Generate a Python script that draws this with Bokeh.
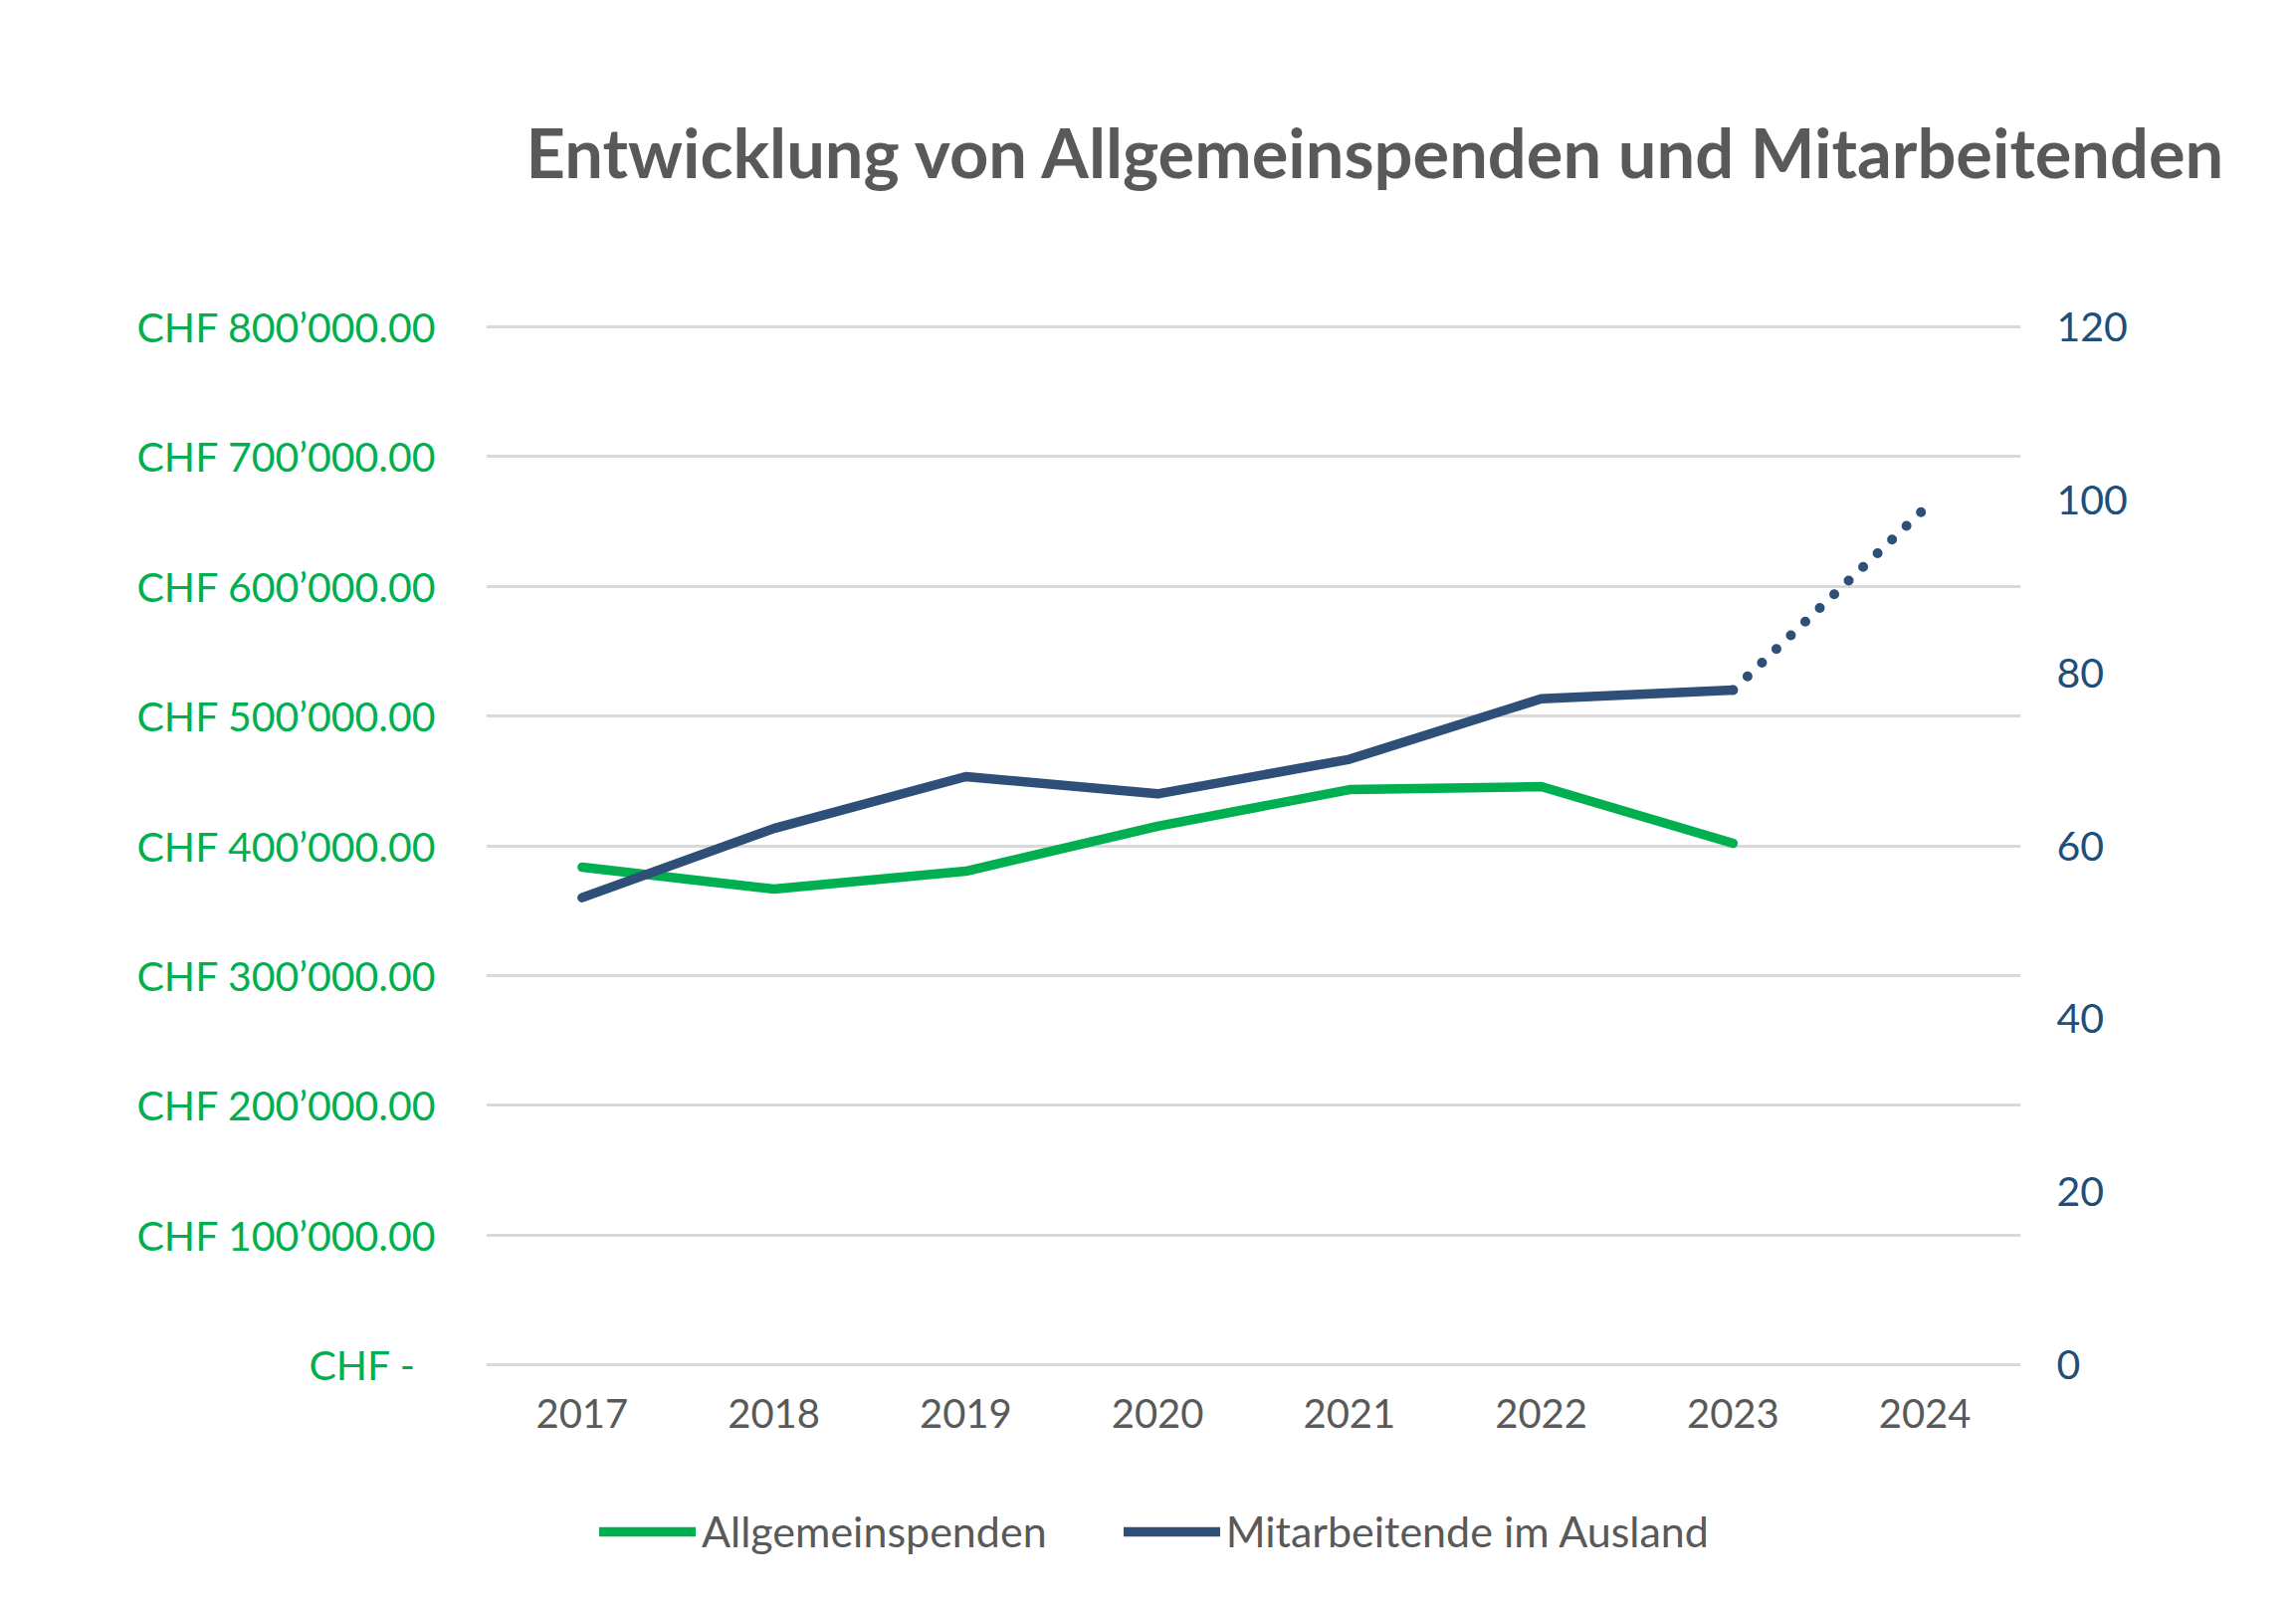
import numpy as np
from bokeh.plotting import figure
from bokeh.layouts import column
from bokeh.models import (Range1d, FactorRange, LinearAxis, FixedTicker, Legend,
                          LegendItem, ColumnDataSource, Title)
from bokeh.embed import file_html
from bokeh.resources import INLINE

# ---- data ----
years = ["2017", "2018", "2019", "2020", "2021", "2022", "2023", "2024"]
spenden_years = ["2017", "2018", "2019", "2020", "2021", "2022", "2023"]
spenden = [383500, 366600, 380400, 415000, 443300, 445600, 401900]
mitarbeiter_years = ["2017", "2018", "2019", "2020", "2021", "2022", "2023"]
mitarbeiter = [54, 62, 68, 66, 70, 77, 78]
prognose_years = ["2023", "2024"]
prognose = [78, 99]
left_ticks = [0, 100000, 200000, 300000, 400000, 500000, 600000, 700000, 800000]
left_labels = ["CHF -\u2002", "CHF 100\u2019000.00", "CHF 200\u2019000.00", "CHF 300\u2019000.00",
               "CHF 400\u2019000.00", "CHF 500\u2019000.00", "CHF 600\u2019000.00",
               "CHF 700\u2019000.00", "CHF 800\u2019000.00"]
right_ticks = [0, 20, 40, 60, 80, 100, 120]
title_text = "Entwicklung von Allgemeinspenden und Mitarbeitenden"
series_names = ["Allgemeinspenden", "Mitarbeitende im Ausland"]

GREEN = "#00B050"
BLUE = "#2E4F78"
GRAY = "#595959"
RBLUE = "#1F4E79"
FONT = "Lato"

# small range padding so the outer grid lines are not clipped at the frame edge
PAD_PX = 4
LEFT_PAD = 800000 / 1043 * PAD_PX
RIGHT_PAD = 120 / 1043 * PAD_PX

W = 2291
H1 = 1480          # main chart
H2 = 1593 - H1     # legend strip

p = figure(width=W, height=H1, x_range=FactorRange(*years),
           y_range=Range1d(-LEFT_PAD, 800000 + LEFT_PAD),
           output_backend="svg", toolbar_location=None, title=None,
           min_border_left=488, min_border_right=W - 2030,
           min_border_top=328 - PAD_PX, min_border_bottom=H1 - 1371 - PAD_PX)
p.outline_line_color = None
p.background_fill_color = "white"
p.border_fill_color = "white"
p.extra_y_ranges = {"ma": Range1d(-RIGHT_PAD, 120 + RIGHT_PAD)}

# spacer between plot area and title (first "above" item sits next to the frame)
p.add_layout(Title(text=" ", text_font_size="1px", standoff=128), "above")
# title
p.add_layout(Title(text=title_text, text_font=FONT, text_font_size="68.6px",
                   text_font_style="bold", text_color=GRAY, align="left",
                   offset=40, standoff=0), "above")

# grids
p.xgrid.grid_line_color = None
p.ygrid.grid_line_color = "#D9D9D9"
p.ygrid.grid_line_width = 3
p.ygrid.ticker = FixedTicker(ticks=left_ticks)

# left axis
ya = p.yaxis[0]
ya.ticker = FixedTicker(ticks=left_ticks)
ya.major_label_overrides = {t: l for t, l in zip(left_ticks, left_labels)}
ya.axis_line_color = None
ya.major_tick_line_color = None
ya.minor_tick_line_color = None
ya.major_label_standoff = 44
ya.major_label_text_color = GREEN
ya.major_label_text_font = FONT
ya.major_label_text_font_size = "41px"

# right axis
ra = LinearAxis(y_range_name="ma", ticker=FixedTicker(ticks=right_ticks))
ra.axis_line_color = None
ra.major_tick_line_color = None
ra.minor_tick_line_color = None
ra.major_label_standoff = 30
ra.major_label_text_color = RBLUE
ra.major_label_text_font = FONT
ra.major_label_text_font_size = "41px"
p.add_layout(ra, "right")

# x axis
xa = p.xaxis[0]
xa.axis_line_color = None
xa.major_tick_line_color = None
xa.minor_tick_line_color = None
xa.major_label_standoff = 24
xa.major_label_text_color = GRAY
xa.major_label_text_font = FONT
xa.major_label_text_font_size = "40px"

# lines
s1 = ColumnDataSource(dict(x=spenden_years, y=spenden))
s2 = ColumnDataSource(dict(x=mitarbeiter_years, y=mitarbeiter))
s3 = ColumnDataSource(dict(x=prognose_years, y=prognose))
line_style = dict(line_width=9.5, line_cap="round", line_join="round")
r1 = p.line("x", "y", source=s1, line_color=GREEN, **line_style)
r2 = p.line("x", "y", source=s2, line_color=BLUE, y_range_name="ma", **line_style)
r3 = p.line("x", "y", source=s3, line_color=BLUE, line_width=10, line_cap="round",
            line_dash="0 20", y_range_name="ma")

# legend strip below the chart (its own figure so the legend is not clipped)
q = figure(width=W, height=H2, x_range=Range1d(0, 1), y_range=Range1d(0, 1),
           output_backend="svg", toolbar_location=None,
           x_axis_location=None, y_axis_location=None,
           min_border_left=488, min_border_right=W - 2030, min_border_top=0, min_border_bottom=0)
q.outline_line_color = None
q.grid.grid_line_color = None
q.background_fill_color = "white"
q.border_fill_color = "white"
nan = np.array([np.nan])
k1 = q.line(x=nan, y=nan, line_color=GREEN, **line_style)
k2 = q.line(x=nan, y=nan, line_color=BLUE, **line_style)

legend = Legend(items=[LegendItem(label=series_names[0], renderers=[k1]),
                       LegendItem(label=series_names[1], renderers=[k2])],
                orientation="horizontal", location=(114, 29))
legend.border_line_color = None
legend.background_fill_alpha = 0
legend.padding = 0
legend.margin = 0
legend.spacing = 77
legend.glyph_width = 97
legend.glyph_height = 24
legend.label_standoff = 6
legend.label_text_font = FONT
legend.label_text_font_size = "43px"
legend.label_text_color = GRAY
q.add_layout(legend, "center")

layout = column(p, q, spacing=0)
open("out.html", "w").write(file_html(layout, INLINE))
